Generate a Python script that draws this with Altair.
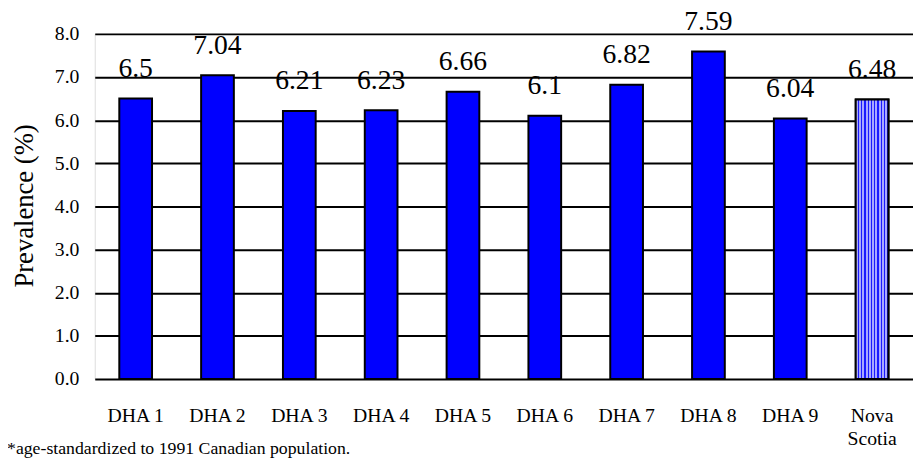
import altair as alt
import pandas as pd

categories = ["DHA 1", "DHA 2", "DHA 3", "DHA 4", "DHA 5", "DHA 6", "DHA 7", "DHA 8", "DHA 9", "Nova Scotia"]
values = [6.5, 7.04, 6.21, 6.23, 6.66, 6.1, 6.82, 7.59, 6.04, 6.48]
value_labels = ["6.5", "7.04", "6.21", "6.23", "6.66", "6.1", "6.82", "7.59", "6.04", "6.48"]
y_ticks = [0, 1, 2, 3, 4, 5, 6, 7, 8]
footnote = "*age-standardized to 1991 Canadian population."

FONT = "Liberation Serif, Times New Roman, serif"

df = pd.DataFrame({"region": categories, "value": values, "label": value_labels})

# striped fill for the Nova Scotia bar
n_stripes = 10
stops = []
for i in range(n_stripes):
    a = i / n_stripes
    m = (i + 0.6) / n_stripes
    b = (i + 1) / n_stripes
    stops += [
        alt.GradientStop(offset=a, color="#a8a8ff"),
        alt.GradientStop(offset=m, color="#a8a8ff"),
        alt.GradientStop(offset=m, color="#1a1aff"),
        alt.GradientStop(offset=b, color="#1a1aff"),
    ]
stripe = alt.Gradient(gradient="linear", stops=stops, x1=0, x2=1, y1=0, y2=0)

x = alt.X(
    "region:N",
    sort=categories,
    scale=alt.Scale(paddingInner=0.6, paddingOuter=0.3),
    axis=alt.Axis(
        title=None,
        labelAngle=0,
        ticks=False,
        domain=False,
        labelFont=FONT,
        labelFontSize=20,
        labelColor="black",
        labelPadding=27,
        labelLineHeight=24,
        labelExpr="datum.value == 'Nova Scotia' ? ['Nova', 'Scotia'] : datum.value",
    ),
)
y = alt.Y(
    "value:Q",
    scale=alt.Scale(domain=[0, 8], nice=False),
    axis=alt.Axis(
        title="Prevalence (%)",
        values=y_ticks,
        format=".1f",
        grid=True,
        gridColor="black",
        gridWidth=2,
        gridOpacity=1,
        ticks=False,
        domain=False,
        labelFont=FONT,
        labelFontSize=20,
        labelColor="black",
        labelPadding=16,
        titleFont=FONT,
        titleFontSize=27,
        titleFontWeight="normal",
        titleColor="black",
        titleX=-71,
        titleY=174,
        titleBaseline="middle",
    ),
)

base = alt.Chart(df)

bars = base.mark_bar(color="#0000ff", stroke="black", strokeWidth=2).encode(x=x, y=y)

ns_bar = (
    base.transform_filter(alt.datum.region == "Nova Scotia")
    .mark_bar(color=stripe, stroke="black", strokeWidth=2)
    .encode(x=alt.X("region:N", sort=categories), y="value:Q")
)

text = base.mark_text(
    font=FONT, fontSize=28, baseline="alphabetic", dy=-22, color="black"
).encode(x=alt.X("region:N", sort=categories), y="value:Q", text="label:N")

note = alt.Chart(pd.DataFrame({"t": [footnote]})).mark_text(
    font=FONT, fontSize=18, align="left", baseline="alphabetic", color="black"
).encode(x=alt.value(-89), y=alt.value(426), text="t:N")

chart = (
    alt.layer(bars, ns_bar, text, note)
    .properties(
        width=830,
        height=350,
        autosize=alt.AutoSizeParams(type="none"),
        padding={"left": 88, "top": 23, "right": 0, "bottom": 82},
    )
    .configure_view(stroke="black", strokeWidth=2)
    .configure(font=FONT, background="white")
)

chart.save("out.html", embed_options={"renderer": "svg", "actions": False})
